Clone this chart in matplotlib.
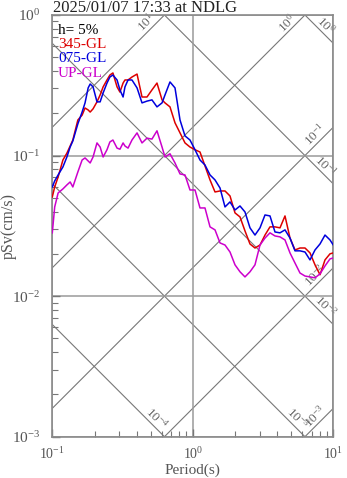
import numpy as np
import matplotlib
matplotlib.use("Agg")
import matplotlib.pyplot as plt
from matplotlib.ticker import LogLocator, NullFormatter

plt.rcParams['font.family'] = ['Liberation Serif', 'DejaVu Serif']
plt.rcParams['mathtext.fontset'] = 'custom'
plt.rcParams['mathtext.rm'] = 'Liberation Serif'
plt.rcParams['mathtext.it'] = 'Liberation Serif:italic'
plt.rcParams['mathtext.bf'] = 'Liberation Serif:bold'

title = "2025/01/07 17:33 at NDLG"
damping_label = "h= 5%"
series_names = ["345-GL", "075-GL", "UP-GL"]
series_colors = ["#dd0000", "#0000dd", "#cc00cc"]

period = [0.100, 0.104, 0.110, 0.119, 0.127, 0.134, 0.140, 0.152, 0.163, 0.171,
          0.180, 0.186, 0.195, 0.208, 0.219, 0.230, 0.245, 0.257, 0.270, 0.289,
          0.303, 0.319, 0.329, 0.346, 0.369, 0.401, 0.435, 0.472, 0.512, 0.556,
          0.604, 0.634, 0.688, 0.747, 0.811, 0.880, 0.955, 1.037, 1.125, 1.221,
          1.326, 1.439, 1.562, 1.695, 1.840, 1.997, 2.167, 2.352, 2.553, 2.771,
          3.008, 3.265, 3.543, 3.846, 4.174, 4.531, 4.918, 5.338, 5.794, 6.289,
          6.826, 7.409, 8.042, 8.729, 9.474, 10.0]

psv_345 = [0.0508, 0.0598, 0.0704, 0.0930, 0.104, 0.117, 0.129, 0.179, 0.194, 0.218,
           0.211, 0.204, 0.215, 0.241, 0.270, 0.308, 0.345, 0.374, 0.387, 0.308,
           0.283, 0.328, 0.345, 0.345, 0.362, 0.380, 0.261, 0.261, 0.293, 0.328,
           0.249, 0.237, 0.222, 0.171, 0.145, 0.123, 0.115, 0.110, 0.106, 0.0844,
           0.0671, 0.0551, 0.0560, 0.0560, 0.0516, 0.0391, 0.0366, 0.0291, 0.0235, 0.0220,
           0.0231, 0.0272, 0.0311, 0.0311, 0.0306, 0.0372, 0.0259, 0.0213, 0.0220, 0.0220,
           0.0203, 0.0167, 0.0142, 0.0181, 0.0200, 0.0203]

psv_075 = [0.0598, 0.0660, 0.0728, 0.0830, 0.0977, 0.115, 0.127, 0.168, 0.204, 0.237,
           0.303, 0.323, 0.308, 0.241, 0.241, 0.279, 0.328, 0.362, 0.374, 0.345,
           0.293, 0.261, 0.308, 0.345, 0.345, 0.303, 0.237, 0.244, 0.249, 0.222,
           0.237, 0.270, 0.334, 0.303, 0.179, 0.138, 0.129, 0.110, 0.0930, 0.0857,
           0.0728, 0.0671, 0.0588, 0.0431, 0.0468, 0.0410, 0.0438, 0.0397, 0.0306, 0.0272,
           0.0306, 0.0378, 0.0372, 0.0286, 0.0282, 0.0296, 0.0259, 0.0210, 0.0210, 0.0206,
           0.0181, 0.0213, 0.0235, 0.0272, 0.0251, 0.0231]

psv_up = [0.0282, 0.0431, 0.0542, 0.0579, 0.0618, 0.0649, 0.0598, 0.0764, 0.0930, 0.0962,
          0.0915, 0.0886, 0.0977, 0.123, 0.115, 0.0977, 0.110, 0.125, 0.129, 0.113,
          0.111, 0.123, 0.117, 0.113, 0.129, 0.145, 0.123, 0.133, 0.131, 0.150,
          0.115, 0.0977, 0.103, 0.0886, 0.0740, 0.0728, 0.0569, 0.0569, 0.0424, 0.0424,
          0.0311, 0.0296, 0.0239, 0.0231, 0.0206, 0.0167, 0.0149, 0.0137, 0.0149, 0.0167,
          0.0231, 0.0259, 0.0282, 0.0268, 0.0264, 0.0251, 0.0203, 0.0172, 0.0146, 0.0139,
          0.0137, 0.0135, 0.0144, 0.0164, 0.0184, 0.0187]

# tripartite guide values
sa_levels = [1e-3, 1e-2, 1e-1, 1e0, 1e1]      # constant pseudo-acceleration (cm/s^2)
sd_levels = [1e-4, 1e-3, 1e-2, 1e-1, 1e0]     # constant displacement (cm)
sa_texts = [r"$10^{-3}$", r"$10^{-2}$", r"$10^{-1}$", r"$10^{0}$", r"$10^{1}$"]
sd_texts = [r"$10^{-4}$", r"$10^{-3}$", r"$10^{-2}$", r"$10^{-1}$", r"$10^{0}$"]

T_MIN, T_MAX = 0.1, 10.0
V_MIN, V_MAX = 1e-3, 1.0

W, H = 347, 478
fig = plt.figure(figsize=(W / 100, H / 100), dpi=100)
ax = fig.add_axes([52.3 / W, 1 - 436.7 / H, 281 / W, 421.7 / H])
ax.set_xscale('log')
ax.set_yscale('log')
ax.set_xlim(T_MIN, T_MAX)
ax.set_ylim(V_MIN, V_MAX)

gcol = '#8a8a8a'
diag_col = '#777777'
tp = 2 * np.pi
Tline = np.logspace(-2, 2, 200)
f_back = 10 ** (-13 / 140.5)
for sa, txt in zip(sa_levels, sa_texts):
    ax.plot(Tline, sa * Tline / tp, color=diag_col, lw=0.8, zorder=1)
    T_exit = min(tp * V_MAX / sa, T_MAX)
    Ta = T_exit * f_back
    ax.annotate(txt, xy=(Ta, sa * Ta / tp), rotation=45, rotation_mode='anchor',
                ha='center', va='bottom', fontsize=9.5, color='#666666',
                annotation_clip=False, zorder=2)
for sd, txt in zip(sd_levels, sd_texts):
    ax.plot(Tline, tp * sd / Tline, color=diag_col, lw=0.8, zorder=1)
    T_exit = min(tp * sd / V_MIN, T_MAX)
    Ta = T_exit * f_back
    ax.annotate(txt, xy=(Ta, tp * sd / Ta), rotation=-45, rotation_mode='anchor',
                ha='center', va='bottom', fontsize=9.5, color='#666666',
                annotation_clip=False, zorder=2)

ax.grid(True, which='major', color='#9a9a9a', lw=1.1, zorder=0)

for vals, col in zip([psv_345, psv_075, psv_up], series_colors):
    ax.plot(period, vals, color=col, lw=1.1, zorder=3)

# legend-like text
ax.text(0.02, 0.964, damping_label, transform=ax.transAxes, fontsize=11,
        color='black', va='center', ha='left')
ys = [0.930, 0.896, 0.862]
for name, col, yy in zip(series_names, series_colors, ys):
    ax.text(0.02, yy, name, transform=ax.transAxes, fontsize=11, color=col,
            va='center', ha='left')

for s in ax.spines.values():
    s.set_color(gcol)
    s.set_linewidth(1.2)

ax.xaxis.set_major_locator(LogLocator(base=10, numticks=10))
ax.yaxis.set_major_locator(LogLocator(base=10, numticks=10))
ax.xaxis.set_minor_locator(LogLocator(base=10, subs=np.arange(2, 10), numticks=20))
ax.yaxis.set_minor_locator(LogLocator(base=10, subs=np.arange(2, 10), numticks=20))
ax.xaxis.set_minor_formatter(NullFormatter())
ax.yaxis.set_minor_formatter(NullFormatter())
ax.tick_params(which='both', direction='in', colors='#777777', labelcolor='#555555',
               top=False, right=False)
ax.tick_params(which='major', length=6, width=1.0)
ax.tick_params(which='minor', length=4, width=0.8)
ax.tick_params(axis='x', which='major', labelsize=10, pad=7)
ax.tick_params(axis='y', which='major', labelsize=11, pad=9)

ax.set_xlabel("Period(s)", fontsize=11, color='#555555')
ax.set_ylabel("pSv(cm/s)", fontsize=11.5, color='#555555')
ax.xaxis.set_label_coords(0.5, (436.7 - 470) / 421.7)
ax.yaxis.set_label_coords((9 - 52.3) / 281, 0.5)
ax.xaxis.label.set_va('center')
ax.yaxis.label.set_va('center')

fig.text(53 / W, 1 - 12.5 / H, title, fontsize=12, color='#222222',
         ha='left', va='baseline')

fig.savefig("out.png", dpi=100)
